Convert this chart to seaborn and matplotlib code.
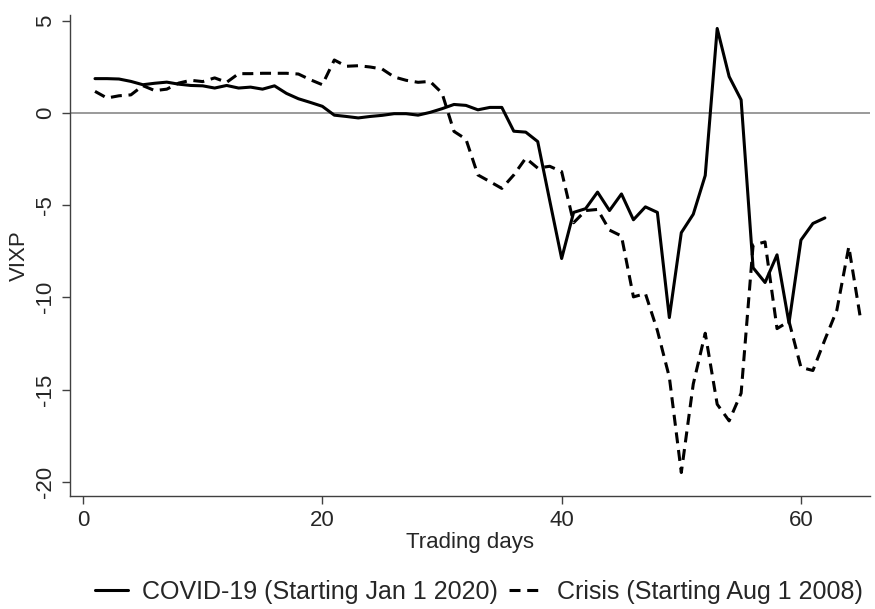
import numpy as np
import pandas as pd
import matplotlib
matplotlib.use("Agg")
import matplotlib.pyplot as plt
import seaborn as sns

covid_days = list(range(1, 63))
covid_vals = [1.85, 1.85, 1.83, 1.70, 1.52, 1.60, 1.66, 1.55, 1.48, 1.46,
              1.34, 1.48, 1.34, 1.39, 1.28, 1.46, 1.05, 0.76, 0.56, 0.35,
              -0.13, -0.20, -0.28, -0.20, -0.14, -0.05, -0.05, -0.13, 0.02, 0.22,
              0.45, 0.40, 0.16, 0.29, 0.29, -1.00, -1.05, -1.56, -4.75, -7.90,
              -5.40, -5.20, -4.30, -5.30, -4.40, -5.80, -5.10, -5.40, -11.10, -6.50,
              -5.50, -3.40, 4.57, 1.96, 0.70, -8.40, -9.20, -7.70, -11.40, -6.90,
              -6.00, -5.70]

crisis_days = list(range(1, 66))
crisis_vals = [1.16, 0.80, 0.92, 0.97, 1.47, 1.20, 1.28, 1.61, 1.76, 1.69,
               1.89, 1.65, 2.12, 2.12, 2.14, 2.14, 2.14, 2.10, 1.79, 1.52,
               2.86, 2.52, 2.55, 2.48, 2.37, 1.94, 1.76, 1.65, 1.70, 1.07,
               -1.01, -1.43, -3.37, -3.73, -4.10, -3.37, -2.46, -3.00, -2.90, -3.19,
               -5.96, -5.30, -5.24, -6.36, -6.68, -9.98, -9.80, -11.80, -14.33, -19.50,
               -14.70, -11.95, -15.80, -16.70, -15.20, -7.17, -7.00, -11.70, -11.30, -13.80,
               -13.97, -12.30, -10.70, -7.26, -11.25]

series_names = ["COVID-19 (Starting Jan 1 2020)", "Crisis (Starting Aug 1 2008)"]
x_ticks = [0, 20, 40, 60]
y_ticks = [5, 0, -5, -10, -15, -20]

df = pd.concat([
    pd.DataFrame({"day": covid_days, "value": covid_vals, "series": series_names[0]}),
    pd.DataFrame({"day": crisis_days, "value": crisis_vals, "series": series_names[1]}),
], ignore_index=True)

sns.set_style("white")
plt.rcParams["font.family"] = ["Liberation Sans", "DejaVu Sans"]
FS = 16
LEG_FS = 18

fig = plt.figure(figsize=(8.75, 6.09), dpi=100)
ax = fig.add_axes([0.08, 0.1856, 0.914, 0.7898])

ax.axhline(0, color="#7f7f7f", lw=1.1, zorder=1)
sns.lineplot(data=df, x="day", y="value", hue="series", style="series",
             palette={series_names[0]: "black", series_names[1]: "black"},
             dashes={series_names[0]: "", series_names[1]: (3.6, 2.2)},
             estimator=None, sort=False, lw=2.2, ax=ax, zorder=3)

ax.set_xlim(-1.09, 65.75)
ax.set_ylim(-20.77, 5.3)
ax.set_xticks(x_ticks)
ax.set_yticks(y_ticks)
ax.set_xticklabels([str(t) for t in x_ticks], fontsize=FS)
ax.set_yticklabels([str(t) for t in y_ticks], fontsize=FS, rotation=90, va="center")
ax.tick_params(axis="both", direction="out", length=6.0, width=1.0, color="#404040",
               left=True, bottom=True, pad=4)
ax.set_xlabel("Trading days", fontsize=FS, labelpad=1)
ax.set_ylabel("VIXP", fontsize=FS, labelpad=4)

for side in ["top", "right"]:
    ax.spines[side].set_visible(False)
for side in ["left", "bottom"]:
    ax.spines[side].set_color("#404040")
    ax.spines[side].set_linewidth(1.0)

handles, labels = ax.get_legend_handles_labels()
ax.get_legend().remove()
leg = fig.legend(handles, labels, loc="center", bbox_to_anchor=(0.547, 0.028),
                 ncol=2, frameon=False, fontsize=LEG_FS, handlelength=1.35,
                 handletextpad=0.55, columnspacing=0.45)
for h in leg.get_lines():
    h.set_linewidth(2.2)

fig.savefig("out.png", dpi=100)
